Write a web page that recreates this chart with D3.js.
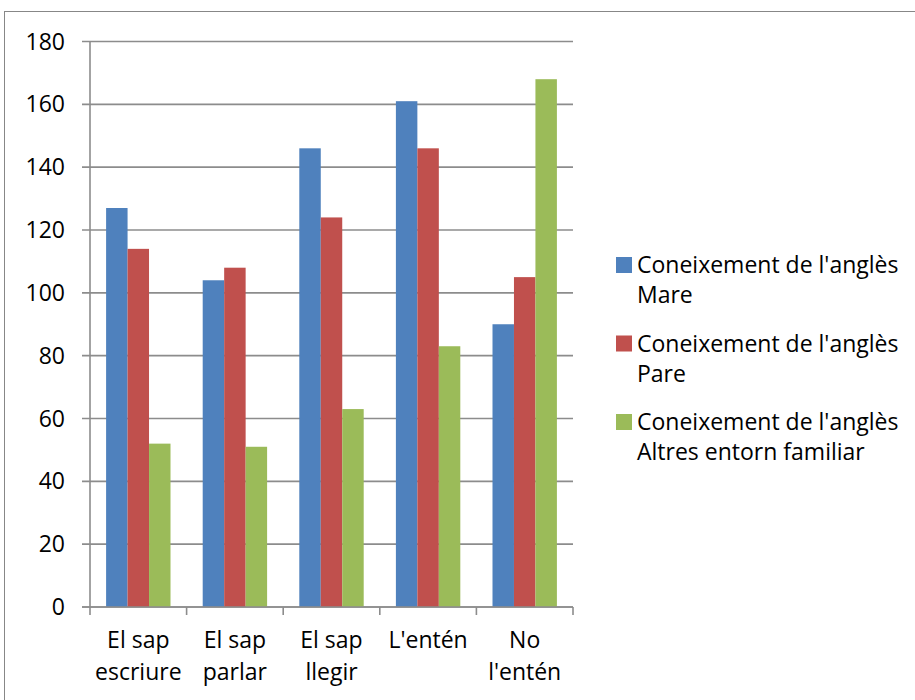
<!DOCTYPE html>
<html>
<head>
<meta charset="utf-8">
<script src="https://cdn.jsdelivr.net/npm/d3@7"></script>
<style>
  html, body { margin: 0; padding: 0; background: #fff; }
  svg { display: block; font-family: "Open Sans", Lato, sans-serif; }
</style>
</head>
<body>
<svg id="chart" width="915" height="700"></svg>
<script>
// Knowledge of English by family member, per category
const categories = [["El sap", "escriure"], ["El sap", "parlar"], ["El sap", "llegir"], ["L'entén"], ["No", "l'entén"]];
const seriesNames = [["Coneixement de l'anglès", "Mare"], ["Coneixement de l'anglès", "Pare"], ["Coneixement de l'anglès", "Altres entorn familiar"]];
const mare = [127, 104, 146, 161, 90];
const pare = [114, 108, 124, 146, 105];
const altres = [52, 51, 63, 83, 168];
const yTicks = [0, 20, 40, 60, 80, 100, 120, 140, 160, 180];
const colors = ["#4F81BD", "#C0504D", "#9BBB59"];

const series = [mare, pare, altres];
const svg = d3.select("#chart");
const fontSize = 23;

// chart frame
svg.append("rect")
  .attr("x", 4.5).attr("y", 11.5)
  .attr("width", 940).attr("height", 720)
  .attr("fill", "none").attr("stroke", "#878787").attr("stroke-width", 1);

const plot = { left: 90, right: 573, top: 41.5, bottom: 607 };

const x0 = d3.scaleBand()
  .domain(d3.range(categories.length))
  .range([plot.left, plot.right])
  .paddingInner(0).paddingOuter(0);

// Excel-style gap width of 150%: three bars take 3 / 4.5 of each band
const innerPad = (x0.bandwidth() - x0.bandwidth() / 4.5 * 3) / 2;
const x1 = d3.scaleBand()
  .domain(d3.range(series.length))
  .range([innerPad, x0.bandwidth() - innerPad])
  .padding(0);

const y = d3.scaleLinear().domain([0, 180]).range([plot.bottom, plot.top]);

// horizontal gridlines
svg.append("g")
  .selectAll("line")
  .data(yTicks)
  .join("line")
  .attr("x1", plot.left - 8).attr("x2", plot.right)
  .attr("y1", d => y(d)).attr("y2", d => y(d))
  .attr("stroke", "#8c8c8c").attr("stroke-width", 1.6);

// bars
const groups = svg.append("g")
  .selectAll("g")
  .data(categories.map((c, i) => i))
  .join("g")
  .attr("transform", i => `translate(${x0(i)},0)`);

groups.selectAll("rect")
  .data(i => series.map((s, k) => ({ k, v: s[i] })))
  .join("rect")
  .attr("x", d => x1(d.k))
  .attr("width", x1.bandwidth())
  .attr("y", d => y(d.v))
  .attr("height", d => y(0) - y(d.v))
  .attr("fill", d => colors[d.k]);

// y axis line
svg.append("line")
  .attr("x1", plot.left).attr("x2", plot.left)
  .attr("y1", plot.top).attr("y2", plot.bottom)
  .attr("stroke", "#8c8c8c").attr("stroke-width", 1.6);

// x axis line with category tick marks
svg.append("line")
  .attr("x1", plot.left - 8).attr("x2", plot.right)
  .attr("y1", plot.bottom).attr("y2", plot.bottom)
  .attr("stroke", "#8c8c8c").attr("stroke-width", 1.6);

const bounds = d3.range(categories.length + 1).map(i => plot.left + i * x0.step());
svg.append("g")
  .selectAll("line")
  .data(bounds)
  .join("line")
  .attr("x1", d => d).attr("x2", d => d)
  .attr("y1", plot.bottom).attr("y2", plot.bottom + 8)
  .attr("stroke", "#8c8c8c").attr("stroke-width", 1.6);

// y tick labels
svg.append("g")
  .selectAll("text")
  .data(yTicks)
  .join("text")
  .attr("x", 65)
  .attr("y", d => y(d))
  .attr("dy", "0.35em")
  .attr("text-anchor", "end")
  .attr("font-size", fontSize)
  .attr("fill", "#000")
  .text(d => d);

// category labels
const catLabels = svg.append("g")
  .selectAll("text")
  .data(categories)
  .join("text")
  .attr("x", (d, i) => x0(i) + x0.bandwidth() / 2)
  .attr("y", 648)
  .attr("text-anchor", "middle")
  .attr("font-size", fontSize)
  .attr("fill", "#000");
catLabels.selectAll("tspan")
  .data(d => d)
  .join("tspan")
  .attr("x", function () { return this.parentNode.getAttribute("x"); })
  .attr("dy", (d, j) => j === 0 ? 0 : 32)
  .text(d => d);

// legend
const legend = svg.append("g")
  .selectAll("g")
  .data(seriesNames)
  .join("g")
  .attr("transform", (d, i) => `translate(616, ${257 + i * 78.5})`);

legend.append("rect")
  .attr("width", 16).attr("height", 16)
  .attr("fill", (d, i) => colors[i]);

const legText = legend.append("text")
  .attr("x", 21).attr("y", 16)
  .attr("font-size", fontSize)
  .attr("fill", "#000");
legText.selectAll("tspan")
  .data(d => d)
  .join("tspan")
  .attr("x", 21)
  .attr("dy", (d, j) => j === 0 ? 0 : 30)
  .text(d => d);
</script>
</body>
</html>
